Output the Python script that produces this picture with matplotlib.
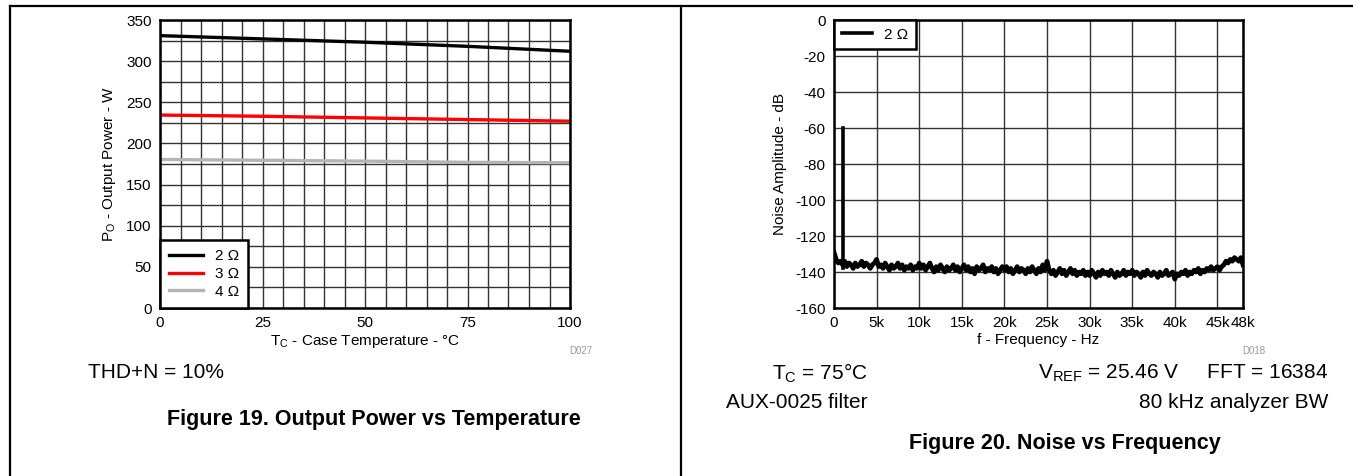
import matplotlib.pyplot as plt
import numpy as np
from matplotlib.lines import Line2D

plt.rcParams['font.family'] = ['Liberation Sans', 'DejaVu Sans']
plt.rcParams['mathtext.default'] = 'regular'
plt.rcParams['axes.unicode_minus'] = False


# Output power vs case temperature
temp_c = [0, 25, 50, 75, 100]
power_2ohm = [331, 327, 323, 318, 312]
power_3ohm = [234.5, 233, 231, 229, 227]
power_4ohm = [180.5, 179.5, 178.5, 177, 176.5]

temp_ticks = [0, 25, 50, 75, 100]
power_ticks = [0, 50, 100, 150, 200, 250, 300, 350]


# Noise vs frequency (FFT bins every 250 Hz)
noise_freq = np.arange(0, 48001, 250)
noise_db = [
    # 0 - 1k
    -129, -133, -135, -134,
    # 1k - 5k
    -136, -134, -137, -135, -136, -138, -135, -137, -136, -134,
    -137, -135, -136, -138, -136, -135,
    # 5k - 10k
    -133, -137, -136, -138, -135, -137, -139, -136, -138, -137,
    -135, -138, -136, -139, -137, -138, -136, -139, -137, -138,
    # 10k - 15k
    -135, -138, -136, -139, -137, -135, -138, -140, -137, -139,
    -136, -138, -140, -137, -139, -138, -136, -139, -137, -140,
    # 15k - 20k
    -138, -136, -139, -137, -140, -138, -141, -137, -139, -138,
    -136, -140, -138, -139, -137, -140, -138, -141, -139, -137,
    # 20k - 25k
    -139, -137, -140, -138, -141, -139, -137, -140, -138, -139,
    -141, -138, -140, -137, -139, -141, -138, -140, -136, -139,
    # 25k - 30k
    -134, -139, -141, -139, -142, -140, -138, -141, -139, -142,
    -140, -138, -141, -139, -142, -140, -141, -139, -142, -140,
    # 30k - 35k
    -142, -139, -141, -143, -140, -142, -139, -141, -140, -142,
    -139, -141, -143, -140, -142, -141, -139, -142, -140, -141,
    # 35k - 40k
    -139, -142, -140, -141, -143, -140, -142, -139, -141, -142,
    -140, -141, -143, -140, -142, -141, -139, -142, -141, -140,
    # 40k - 45k
    -144, -141, -142, -140, -141, -139, -142, -140, -141, -139,
    -140, -138, -141, -139, -140, -138, -139, -137, -139, -138,
    # 45k - 48k
    -137, -139, -137, -136, -134, -135, -133, -134, -132, -133,
    -134, -132, -136,
]
spike_freq = [1000, 1000]
spike_db = [-138, -60]

freq_ticks = [0, 5000, 10000, 15000, 20000, 25000, 30000, 35000, 40000, 45000, 48000]
freq_labels = ["0", "5k", "10k", "15k", "20k", "25k", "30k", "35k", "40k", "45k", "48k"]
db_ticks = [0, -20, -40, -60, -80, -100, -120, -140, -160]


W, H = 1353, 476
fig = plt.figure(figsize=(W / 100, H / 100), dpi=100)


def fx(px):
    return px / W


def fy(py):
    return 1 - py / H


def style_axes(ax):
    for s in ax.spines.values():
        s.set_linewidth(1.8)
        s.set_color("black")
    ax.tick_params(which="both", length=0, labelsize=11, pad=6)
    ax.grid(which="both", color="#333333", linewidth=1.0)
    ax.set_axisbelow(True)


# page frame
fig.add_artist(Line2D([fx(10), 1], [fy(6), fy(6)], color="black", lw=1.6))
fig.add_artist(Line2D([fx(10), fx(10)], [0, fy(6)], color="black", lw=1.6))
fig.add_artist(Line2D([fx(681), fx(681)], [0, fy(6)], color="black", lw=1.6))


# Figure 19
ax1 = fig.add_axes([fx(160), fy(308), fx(570 - 160), (308 - 20) / H])

ax1.plot(temp_c, power_2ohm, color="black", lw=2.4, label="2 Ω")
ax1.plot(temp_c, power_3ohm, color="#ff0000", lw=2.4, label="3 Ω")
ax1.plot(temp_c, power_4ohm, color="#b4b4b4", lw=2.4, label="4 Ω")

ax1.set_xlim(0, 100)
ax1.set_ylim(0, 350)
ax1.set_xticks(temp_ticks)
ax1.set_xticks(np.arange(0, 101, 5), minor=True)
ax1.set_yticks(power_ticks)
ax1.set_yticks(np.arange(0, 351, 25), minor=True)
style_axes(ax1)

ax1.set_xlabel(r"T$_{C}$ - Case Temperature - °C", fontsize=11, labelpad=2)
ax1.set_ylabel(r"P$_{O}$ - Output Power - W", fontsize=11, labelpad=6)

leg1 = ax1.legend(loc="lower left", borderaxespad=0, fancybox=False,
                  framealpha=1, edgecolor="black", fontsize=11,
                  handlelength=2.2, labelspacing=0.25, borderpad=0.6)
leg1.get_frame().set_linewidth(1.8)

fig.text(fx(592), fy(351), "D027", fontsize=7, color="#999999", ha="right", va="center")
fig.text(fx(88), fy(372), "THD+N = 10%", fontsize=15, ha="left", va="center")
fig.text(fx(374), fy(420), "Figure 19. Output Power vs Temperature",
         fontsize=15.5, fontweight="bold", ha="center", va="center")


# Figure 20
ax2 = fig.add_axes([fx(834), fy(308), fx(1243 - 834), (308 - 20) / H])

ax2.plot(noise_freq, noise_db, color="black", lw=3.4, label="2 Ω")
ax2.plot(spike_freq, spike_db, color="black", lw=2.6)

ax2.set_xlim(0, 48000)
ax2.set_ylim(-160, 0)
ax2.set_xticks(freq_ticks)
ax2.set_xticklabels(freq_labels)
ax2.set_yticks(db_ticks)
style_axes(ax2)

ax2.set_xlabel("f - Frequency - Hz", fontsize=11, labelpad=2)
ax2.set_ylabel("Noise Amplitude - dB", fontsize=11, labelpad=6)

leg2 = ax2.legend(loc="upper left", borderaxespad=0, fancybox=False,
                  framealpha=1, edgecolor="black", fontsize=11,
                  handlelength=2.0, borderpad=0.5)
leg2.get_frame().set_linewidth(1.8)
for h in leg2.get_lines():
    h.set_linewidth(2.6)

fig.text(fx(1265), fy(351), "D018", fontsize=7, color="#999999", ha="right", va="center")
fig.text(fx(868), fy(373), r"T$_{C}$ = 75°C", fontsize=15, ha="right", va="center")
fig.text(fx(868), fy(403), "AUX-0025 filter", fontsize=15, ha="right", va="center")
fig.text(fx(1328), fy(373), r"V$_{REF}$ = 25.46 V     FFT = 16384",
         fontsize=15, ha="right", va="center")
fig.text(fx(1328), fy(403), "80 kHz analyzer BW", fontsize=15, ha="right", va="center")
fig.text(fx(1065), fy(443), "Figure 20. Noise vs Frequency",
         fontsize=15.5, fontweight="bold", ha="center", va="center")


plt.savefig("out.png", dpi=100)
plt.close()
